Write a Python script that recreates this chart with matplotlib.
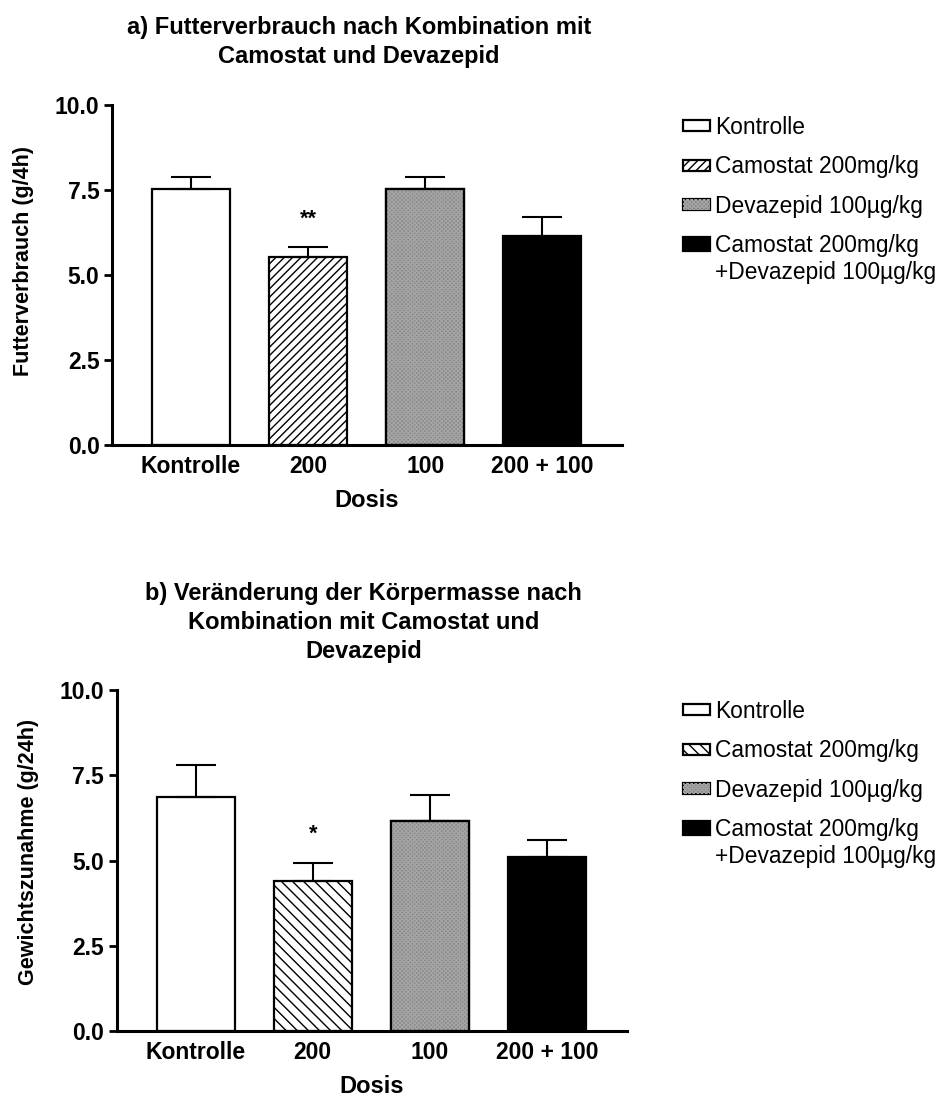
import matplotlib
matplotlib.use("Agg")
import matplotlib.pyplot as plt
from matplotlib.patches import Rectangle
from matplotlib.legend_handler import HandlerPatch
import numpy as np

plt.rcParams['font.family'] = ['Liberation Sans', 'DejaVu Sans']
plt.rcParams['font.weight'] = 'bold'
plt.rcParams['hatch.linewidth'] = 1.0

# Data
GROUPS = ["Kontrolle", "200", "100", "200 + 100"]
LEGEND_LABELS = ["Kontrolle", "Camostat 200mg/kg", "Devazepid 100µg/kg",
                 "Camostat 200mg/kg\n+Devazepid 100µg/kg"]

# a) Futterverbrauch (g/4h)
FOOD_MEAN = [7.52, 5.54, 7.52, 6.16]
FOOD_SEM = [0.35, 0.27, 0.37, 0.55]
FOOD_STARS = ["", "**", "", ""]

# b) Gewichtszunahme (g/24h)
WEIGHT_MEAN = [6.87, 4.40, 6.17, 5.09]
WEIGHT_SEM = [0.93, 0.54, 0.74, 0.51]
WEIGHT_STARS = ["", "*", "", ""]

BAR_W = 0.665
W, H = 947, 1097


def first_line_patch(legend, orig_handle, xdescent, ydescent, width, height, fontsize):
    # legend swatch lined up with the first text line of a two-line label
    return Rectangle((-xdescent, -ydescent + 0.62 * fontsize), width, height * 1.3)


def draw_panel(ax, means, sems, stars, stripe, title, ylabel, ylab_y, title_pad, leg_top):
    x = np.arange(len(GROUPS))
    faces = ["white", "white", "#858585", "black"]
    hatches = [None, stripe, None, None]
    handles = []
    for i in range(len(GROUPS)):
        b = ax.bar(x[i], means[i], BAR_W, color=faces[i], edgecolor="black",
                   linewidth=1.6, hatch=hatches[i], zorder=2)
        handles.append(b[0])
    # fine stipple on the Devazepid bar
    st = ax.bar(x[2], means[2], BAR_W, facecolor="none", edgecolor="#a4a4a4",
                linewidth=0, hatch="xxxxxxxx", zorder=2.1)
    ax.bar(x[2], means[2], BAR_W, facecolor="none", edgecolor="black",
           linewidth=1.6, zorder=2.2)
    handles[2] = (handles[2], st[0])

    ax.errorbar(x, means, yerr=[np.zeros(len(means)), sems], fmt="none",
                ecolor="black", elinewidth=1.5, capsize=14.5, capthick=1.5, zorder=3)
    for xi, m, s, txt in zip(x, means, sems, stars):
        if txt:
            ax.text(xi, m + s + 0.68, txt, ha="center", va="baseline",
                    fontsize=15.5, fontweight="bold")

    ax.set_xlim(-0.674, 3.68)
    ax.set_ylim(0, 10)
    ax.set_yticks([0, 2.5, 5, 7.5, 10])
    ax.yaxis.set_major_formatter(matplotlib.ticker.FormatStrFormatter("%.1f"))
    ax.set_xticks(x)
    ax.set_xticklabels(GROUPS)
    for side in ["top", "right"]:
        ax.spines[side].set_visible(False)
    for side in ["left", "bottom"]:
        ax.spines[side].set_linewidth(2.2)
    ax.tick_params(axis="y", length=6, width=2, labelsize=16.5, pad=3)
    ax.tick_params(axis="x", length=0, labelsize=16.5, pad=7)

    ax.set_xlabel("Dosis", fontsize=17, fontweight="bold", labelpad=8)
    ax.set_ylabel(ylabel, fontsize=15.5, fontweight="bold")
    ax.yaxis.set_label_coords(-0.152, ylab_y)
    ax.set_title(title, fontsize=17, fontweight="bold", pad=title_pad,
                 x=0.484, linespacing=1.33)

    ax.legend(handles, LEGEND_LABELS, loc="upper left",
              bbox_to_anchor=(683 / W, 1 - leg_top / H), bbox_transform=fig.transFigure,
              frameon=False, borderpad=0, borderaxespad=0,
              prop={"size": 16.4, "weight": "normal"},
              handlelength=1.2, handleheight=0.36, handletextpad=0.22,
              labelspacing=0.72,
              handler_map={handles[3]: HandlerPatch(patch_func=first_line_patch)})


fig = plt.figure(figsize=(W / 100, H / 100), dpi=100)
ax1 = fig.add_axes([112 / W, 1 - 445 / H, 510 / W, 340 / H])
ax2 = fig.add_axes([116.7 / W, 1 - 1031 / H, 510 / W, 341 / H])

draw_panel(ax1, FOOD_MEAN, FOOD_SEM, FOOD_STARS, "////",
           "a) Futterverbrauch nach Kombination mit\nCamostat und Devazepid",
           "Futterverbrauch (g/4h)", 0.541, 30, 116)
draw_panel(ax2, WEIGHT_MEAN, WEIGHT_SEM, WEIGHT_STARS, "\\\\\\",
           "b) Veränderung der Körpermasse nach\nKombination mit Camostat und\nDevazepid",
           "Gewichtszunahme (g/24h)", 0.525, 23, 700)

fig.savefig("out.png", dpi=100)
